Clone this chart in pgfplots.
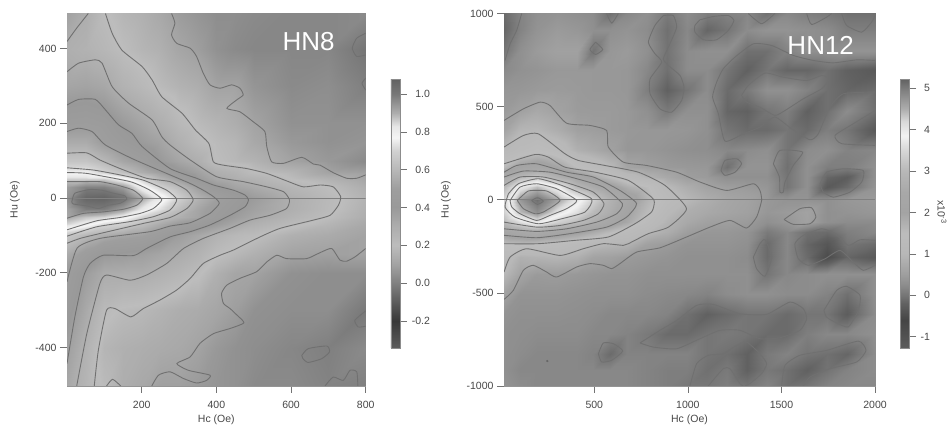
\documentclass[border=0pt]{standalone}
\usepackage{fontspec}
\setmainfont{Liberation Sans}
\usepackage{pgfplots}
\pgfplotsset{compat=1.18}
\pgfplotsset{
  /pgf/number format/assume math mode=true,
  /pgf/number format/1000 sep={},
  colormap={hneight}{gray(0cm)=(.36) gray(1.43cm)=(.22) gray(2.43cm)=(.36) gray(3.43cm)=(.5) gray(4.43cm)=(.64) gray(5.43cm)=(.74) gray(6.43cm)=(.68) gray(7.43cm)=(.6) gray(8.43cm)=(.62) gray(9.43cm)=(.72) gray(10.43cm)=(.82) gray(11.13cm)=(.96) gray(11.73cm)=(.9) gray(12.43cm)=(.68) gray(13.43cm)=(.47) gray(14.23cm)=(.38)},
  colormap={hntwelve}{gray(0cm)=(.36) gray(1.34cm)=(.27) gray(2.14cm)=(.38) gray(2.54cm)=(.46) gray(3.04cm)=(.55) gray(3.54cm)=(.62) gray(4.54cm)=(.72) gray(5.54cm)=(.74) gray(6.54cm)=(.64) gray(7.54cm)=(.66) gray(8.54cm)=(.72) gray(9.54cm)=(.84) gray(10.24cm)=(.95) gray(10.94cm)=(.85) gray(11.54cm)=(.68) gray(12.54cm)=(.48) gray(12.98cm)=(.38)},
  ct/.style={no markers,color=black!56,line width=.9pt,smooth,tension=.35,line join=round},
  zl/.style={no markers,color=black!50,line width=.6pt},
  forc/.style={
    scale only axis,
    axis line style={black!42,line width=.9pt},
    tick style={black!55,line width=.7pt},
    tick align=outside,
    major tick length=7pt,
    xtick pos=bottom,ytick pos=left,
    tick label style={font=\fontsize{10.5}{12}\selectfont,text=black!72},
    xticklabel style={yshift=-5pt},
    label style={font=\fontsize{10.5}{12}\selectfont,text=black!72},
    xlabel={Hc (Oe)},ylabel={Hu (Oe)},
    xlabel style={at={(axis description cs:.5,0)},anchor=center,yshift=-34pt},
  },
  cbar/.style={
    scale only axis,width=9pt,height=269pt,
    axis line style={black!45,line width=.6pt},
    tick style={black!55,line width=.7pt},
    major tick length=7pt,
    tick align=outside,
    ytick pos=right,yticklabel pos=right,
    tick label style={font=\fontsize{10.5}{12}\selectfont,text=black!72},
    anchor=north west,
  },
}
\begin{document}
\begin{tikzpicture}[x=1pt,y=1pt]
\useasboundingbox (0,0) rectangle (951,428);
\begin{axis}[forc,at={(67pt,42pt)},anchor=south west,width=298.7pt,height=372.5pt,
  xmin=0,xmax=800,ymin=-503,ymax=494,
  xtick={200,400,600,800},ytick={-400,-200,0,200,400},
  ylabel style={at={(axis description cs:0,.5)},anchor=center,yshift=52pt},
  colormap name=hneight,point meta min=-0.343,point meta max=1.08,
  colorbar,
  colorbar style={cbar,at={(1.0847,0.8242)},
    ytick={-0.2,0,0.2,0.4,0.6,0.8,1.0},
    yticklabel style={anchor=east,xshift=26.5pt,/pgf/number format/fixed,/pgf/number format/fixed zerofill,/pgf/number format/precision=1}},
]
\addplot[surf,shader=interp,mesh/cols=14,point meta=explicit] coordinates {
(0,494)[.36] (50,494)[.3] (100,494)[.21] (150,494)[.17] (200,494)[.15] (250,494)[.12] (300,494)[.08] (350,494)[.06] (400,494)[.04] (450,494)[.04] (500,494)[.03] (600,494)[.02] (700,494)[.02] (800,494)[.03]
(0,400)[.29] (50,400)[.27] (100,400)[.24] (150,400)[.2] (200,400)[.17] (250,400)[.15] (300,400)[.11] (350,400)[.085] (400,400)[.05] (450,400)[.03] (500,400)[.02] (600,400)[.02] (700,400)[.02] (800,400)[-.03]
(0,300)[.34] (50,300)[.35] (100,300)[.33] (150,300)[.27] (200,300)[.23] (250,300)[.19] (300,300)[.16] (350,300)[.14] (400,300)[.1] (450,300)[.1] (500,300)[.06] (600,300)[.03] (700,300)[.04] (800,300)[.0]
(0,200)[.46] (50,200)[.47] (100,200)[.45] (150,200)[.39] (200,200)[.34] (250,200)[.29] (300,200)[.23] (350,200)[.19] (400,200)[.165] (450,200)[.14] (500,200)[.1] (600,200)[.05] (700,200)[.05] (800,200)[.05]
(0,150)[.55] (50,150)[.55] (100,150)[.49] (150,150)[.44] (200,150)[.39] (250,150)[.35] (300,150)[.28] (350,150)[.22] (400,150)[.19] (450,150)[.17] (500,150)[.12] (600,150)[.07] (700,150)[.05] (800,150)[.06]
(0,100)[.65] (50,100)[.65] (100,100)[.6] (150,100)[.53] (200,100)[.48] (250,100)[.4] (300,100)[.34] (350,100)[.29] (400,100)[.2] (450,100)[.18] (500,100)[.16] (600,100)[.1] (700,100)[.07] (800,100)[.03]
(0,70)[.76] (50,70)[.76] (100,70)[.7] (150,70)[.63] (200,70)[.56] (250,70)[.5] (300,70)[.42] (350,70)[.36] (400,70)[.29] (450,70)[.26] (500,70)[.205] (600,70)[.17] (700,70)[.1] (800,70)[.09]
(0,50)[.86] (50,50)[.86] (100,50)[.86] (150,50)[.8] (200,50)[.7] (250,50)[.59] (300,50)[.5] (350,50)[.4] (400,50)[.33] (450,50)[.295] (500,50)[.27] (600,50)[.2] (700,50)[.16] (800,50)[.11]
(0,30)[.93] (50,30)[.98] (100,30)[.98] (150,30)[.93] (200,30)[.8] (250,30)[.7] (300,30)[.61] (350,30)[.5] (400,30)[.41] (450,30)[.35] (500,30)[.32] (600,30)[.25] (700,30)[.2] (800,30)[.14]
(0,0)[.95] (50,0)[1.06] (100,0)[1.07] (150,0)[1.02] (200,0)[.91] (250,0)[.81] (300,0)[.69] (350,0)[.58] (400,0)[.51] (450,0)[.44] (500,0)[.385] (600,0)[.295] (700,0)[.225] (800,0)[.16]
(0,-30)[.92] (50,-30)[.99] (100,-30)[.99] (150,-30)[.93] (200,-30)[.82] (250,-30)[.73] (300,-30)[.62] (350,-30)[.53] (400,-30)[.46] (450,-30)[.41] (500,-30)[.36] (600,-30)[.29] (700,-30)[.22] (800,-30)[.15]
(0,-50)[.91] (50,-50)[.87] (100,-50)[.85] (150,-50)[.8] (200,-50)[.7] (250,-50)[.63] (300,-50)[.57] (350,-50)[.52] (400,-50)[.44] (450,-50)[.38] (500,-50)[.33] (600,-50)[.26] (700,-50)[.2] (800,-50)[.14]
(0,-70)[.85] (50,-70)[.8] (100,-70)[.72] (150,-70)[.69] (200,-70)[.62] (250,-70)[.55] (300,-70)[.48] (350,-70)[.44] (400,-70)[.39] (450,-70)[.33] (500,-70)[.28] (600,-70)[.22] (700,-70)[.17] (800,-70)[.12]
(0,-100)[.66] (50,-100)[.6] (100,-100)[.56] (150,-100)[.53] (200,-100)[.51] (250,-100)[.46] (300,-100)[.38] (350,-100)[.33] (400,-100)[.27] (450,-100)[.23] (500,-100)[.21] (600,-100)[.15] (700,-100)[.13] (800,-100)[.1]
(0,-150)[.55] (50,-150)[.47] (100,-150)[.4] (150,-150)[.39] (200,-150)[.37] (250,-150)[.34] (300,-150)[.31] (350,-150)[.27] (400,-150)[.21] (450,-150)[.18] (500,-150)[.15] (600,-150)[.1] (700,-150)[.09] (800,-150)[.1]
(0,-200)[.48] (50,-200)[.38] (100,-200)[.31] (150,-200)[.305] (200,-200)[.305] (250,-200)[.28] (300,-200)[.25] (350,-200)[.21] (400,-200)[.15] (450,-200)[.11] (500,-200)[.1] (600,-200)[.05] (700,-200)[.04] (800,-200)[.04]
(0,-300)[.43] (50,-300)[.32] (100,-300)[.22] (150,-300)[.19] (200,-300)[.18] (250,-300)[.16] (300,-300)[.14] (350,-300)[.13] (400,-300)[.11] (450,-300)[.085] (500,-300)[.05] (600,-300)[.04] (700,-300)[.04] (800,-300)[-.02]
(0,-400)[.37] (50,-400)[.27] (100,-400)[.17] (150,-400)[.15] (200,-400)[.14] (250,-400)[.13] (300,-400)[.12] (350,-400)[.1] (400,-400)[.07] (450,-400)[.05] (500,-400)[.04] (600,-400)[.02] (700,-400)[.0] (800,-400)[.03]
(0,-503)[.33] (50,-503)[.25] (100,-503)[.19] (150,-503)[.14] (200,-503)[.12] (250,-503)[.09] (300,-503)[.09] (350,-503)[.075] (400,-503)[.06] (450,-503)[.05] (500,-503)[.03] (600,-503)[.03] (700,-503)[.01] (800,-503)[.0]
};
\addplot[zl] coordinates {(0,0) (800,0)};
\addplot[ct] coordinates {(280,494)(289,468)(280,437)(294,414)(330,401)(347,379)(365,334)(383,303)(410,294)(441,303)(463,294)(472,276)(455,263)(428,240)(463,231)(499,204)(530,178)(535,138)(548,97)(580,93)(629,109)(660,91)(678,88)(713,68)(749,53)(776,53)(800,62)};
\addplot[ct] coordinates {(800,-135)(772,-157)(749,-169)(731,-166)(709,-135)(678,-146)(642,-162)(588,-162)(562,-153)(535,-171)(508,-197)(463,-215)(428,-233)(414,-255)(419,-282)(437,-296)(455,-313)(474,-334)(437,-349)(392,-363)(356,-389)(330,-425)(294,-443)(325,-461)(383,-474)(374,-488)(347,-495)(312,-483)(276,-465)(245,-474)(227,-503)};
\addplot[ct] coordinates {(106,-503)(122,-485)(144,-503)};
\addplot[ct] coordinates {(800,441)(776,428)(764,401)(776,379)(800,383)};
\addplot[ct] coordinates {(800,321)(790,307)(800,289)};
\addplot[ct] coordinates {(800,-302)(771,-327)(780,-345)(800,-343)};
\addplot[ct] coordinates {(629,-421)(646,-403)(696,-396)(703,-412)(682,-430)(646,-440)(632,-430)(629,-421)};
\addplot[ct] coordinates {(691,-503)(713,-479)(740,-488)(758,-461)(776,-465)(779,-503)};
\addplot[ct] coordinates {(103,494)(121,441)(147,396)(201,352)(228,316)(254,271)(308,227)(344,182)(380,146)(392,97)(419,88)(481,79)(535,66)(588,46)(633,30)(678,35)(713,30)(733,4)(727,-19)(705,-46)(660,-59)(571,-81)(517,-104)(446,-139)(410,-153)(365,-175)(330,-215)(294,-246)(249,-273)(204,-296)(171,-318)(129,-296)(106,-300)(84,-407)(73,-503)};
\addplot[ct] coordinates {(0,338)(31,361)(76,370)(94,361)(121,298)(165,254)(228,209)(254,164)(276,142)(330,102)(401,57)(472,44)(535,30)(580,17)(596,-5)(588,-28)(544,-46)(490,-59)(437,-81)(365,-108)(312,-135)(267,-175)(213,-206)(169,-220)(106,-206)(88,-229)(53,-363)(26,-503)};
\addplot[ct] coordinates {(57,494)(26,455)(0,419)};
\addplot[ct] coordinates {(0,249)(31,264)(76,264)(103,236)(138,196)(174,173)(201,138)(276,79)(347,53)(392,35)(446,21)(477,8)(486,-5)(477,-23)(437,-46)(383,-72)(330,-90)(276,-104)(213,-135)(178,-154)(97,-153)(62,-175)(44,-211)(21,-318)(0,-443)};
\addplot[ct] coordinates {(0,178)(31,187)(67,178)(103,142)(178,104)(276,62)(330,39)(365,21)(392,4)(408,-14)(383,-41)(330,-66)(276,-75)(222,-90)(88,-108)(27,-134)(0,-224)};
\addplot[ct] coordinates {(0,120)(53,121)(88,102)(142,79)(213,53)(276,44)(321,21)(338,-5)(321,-28)(276,-52)(204,-68)(88,-95)(35,-108)(0,-121)};
\addplot[ct] coordinates {(0,81)(71,75)(142,62)(204,48)(267,21)(294,-4)(276,-32)(231,-50)(169,-63)(79,-77)(0,-102)};
\addplot[ct] coordinates {(0,68)(53,66)(169,44)(222,21)(254,-4)(231,-28)(196,-41)(142,-52)(79,-61)(0,-85)};
\addplot[ct] coordinates {(0,44)(44,44)(88,44)(133,35)(178,21)(203,-1)(187,-19)(151,-30)(97,-37)(44,-41)(0,-54)};
\addplot[ct] coordinates {(13,-10)(21,13)(62,23)(93,21)(124,13)(155,6)(160,-3)(142,-14)(111,-19)(84,-28)(53,-21)(17,-16)(13,-10)};
\node[text=white,font=\fontsize{26}{28}\selectfont,anchor=center] at (axis cs:647,420) {HN8};
\end{axis}

\begin{axis}[forc,at={(504pt,42pt)},anchor=south west,width=371pt,height=372.5pt,
  xmin=17.5,xmax=2000,ymin=-1000,ymax=1000,
  xtick={500,1000,1500,2000},ytick={-1000,-500,0,500,1000},
  ylabel style={at={(axis description cs:0,.5)},anchor=center,yshift=58pt},
  colormap name=hntwelve,point meta min=-1.27,point meta max=5.22,
  colorbar,
  colorbar style={cbar,at={(1.0674,0.8242)},
    ytick={-1,0,1,2,3,4,5},
    yticklabel style={anchor=east,xshift=17.5pt}},
]
\addplot[surf,shader=interp,mesh/cols=20,point meta=explicit] coordinates {
(18,1000)[-.1] (103,1000)[.15] (192,1000)[.3] (299,1000)[.35] (406,1000)[.3] (495,1000)[.25] (584,1000)[-.05] (673,1000)[.2] (780,1000)[.3] (887,1000)[.05] (993,1000)[.25] (1100,1000)[.1] (1207,1000)[.15] (1314,1000)[.2] (1421,1000)[-.05] (1528,1000)[.2] (1635,1000)[.1] (1742,1000)[.05] (1848,1000)[-.05] (2000,1000)[-.05]
(18,909)[-.15] (103,909)[.15] (192,909)[.35] (299,909)[.45] (406,909)[.4] (495,909)[.3] (584,909)[.3] (673,909)[.35] (780,909)[.25] (887,909)[-.05] (993,909)[.2] (1100,909)[-.15] (1207,909)[.0] (1314,909)[.25] (1421,909)[.35] (1528,909)[.35] (1635,909)[.3] (1742,909)[.25] (1848,909)[.1] (2000,909)[.1]
(18,801)[.0] (103,801)[.3] (192,801)[.45] (299,801)[.55] (406,801)[.55] (495,801)[-.02] (584,801)[.4] (673,801)[.45] (780,801)[.3] (887,801)[-.02] (993,801)[.25] (1100,801)[.3] (1207,801)[.3] (1314,801)[-.05] (1421,801)[-.05] (1528,801)[.15] (1635,801)[.3] (1742,801)[.3] (1848,801)[.35] (2000,801)[.35]
(18,694)[.22] (103,694)[.32] (192,694)[.36] (299,694)[.42] (406,694)[.42] (495,694)[.42] (584,694)[.42] (673,694)[.4] (780,694)[.2] (887,694)[-.05] (993,694)[.25] (1100,694)[.25] (1207,694)[.0] (1314,694)[-.2] (1421,694)[.0] (1528,694)[-.15] (1635,694)[-.15] (1742,694)[-.05] (1848,694)[-.2] (2000,694)[-.3]
(18,587)[.38] (103,587)[.4] (192,587)[.44] (299,587)[.46] (406,587)[.44] (495,587)[.42] (584,587)[.42] (673,587)[.4] (780,587)[.1] (887,587)[-.2] (993,587)[.0] (1100,587)[.25] (1207,587)[-.1] (1314,587)[.05] (1421,587)[.3] (1528,587)[.3] (1635,587)[.15] (1742,587)[-.05] (1848,587)[-.15] (2000,587)[-.1]
(18,479)[.45] (103,479)[.55] (192,479)[.7] (299,479)[.58] (406,479)[.46] (495,479)[.45] (584,479)[.45] (673,479)[.42] (780,479)[.3] (887,479)[.05] (993,479)[.3] (1100,479)[.3] (1207,479)[-.15] (1314,479)[-.2] (1421,479)[.0] (1528,479)[.1] (1635,479)[-.2] (1742,479)[-.05] (1848,479)[.25] (2000,479)[-.05]
(18,372)[.6] (103,372)[.95] (192,372)[.98] (299,372)[.8] (406,372)[.55] (495,372)[.5] (584,372)[.45] (673,372)[.42] (780,372)[.4] (887,372)[.4] (993,372)[.38] (1100,372)[.3] (1207,372)[.0] (1314,372)[-.1] (1421,372)[-.1] (1528,372)[.0] (1635,372)[-.1] (1742,372)[.1] (1848,372)[.0] (2000,372)[-.3]
(18,265)[1.05] (103,265)[1.25] (192,265)[1.42] (299,265)[1.25] (406,265)[.85] (495,265)[.72] (584,265)[.55] (673,265)[.4] (780,265)[.4] (887,265)[.35] (993,265)[.3] (1100,265)[.28] (1207,265)[.2] (1314,265)[.25] (1421,265)[.3] (1528,265)[.0] (1635,265)[.25] (1742,265)[.3] (1848,265)[.15] (2000,265)[.2]
(18,175)[1.6] (103,175)[2.1] (192,175)[2.3] (299,175)[2.0] (406,175)[1.5] (495,175)[1.3] (584,175)[1.05] (673,175)[.62] (780,175)[.52] (887,175)[.45] (993,175)[.42] (1100,175)[.4] (1207,175)[-.05] (1314,175)[.35] (1421,175)[.35] (1528,175)[-.05] (1635,175)[.3] (1742,175)[.1] (1848,175)[.1] (2000,175)[.3]
(18,122)[2.5] (103,122)[3.0] (192,122)[3.3] (299,122)[2.8] (406,122)[2.3] (495,122)[1.9] (584,122)[1.55] (673,122)[1.2] (780,122)[.9] (887,122)[.7] (993,122)[.5] (1100,122)[.45] (1207,122)[.3] (1314,122)[.3] (1421,122)[.3] (1528,122)[.0] (1635,122)[.3] (1742,122)[-.15] (1848,122)[-.25] (2000,122)[.3]
(18,68)[3.0] (103,68)[4.0] (192,68)[4.4] (299,68)[3.9] (406,68)[3.0] (495,68)[2.6] (584,68)[2.2] (673,68)[1.8] (780,68)[1.55] (887,68)[1.05] (993,68)[.8] (1100,68)[.6] (1207,68)[.5] (1314,68)[.45] (1421,68)[.38] (1528,68)[.0] (1635,68)[.3] (1742,68)[-.3] (1848,68)[-.1] (2000,68)[.35]
(18,0)[3.5] (103,0)[4.7] (192,0)[5.1] (299,0)[4.6] (406,0)[4.0] (495,0)[3.4] (584,0)[2.8] (673,0)[2.3] (780,0)[1.7] (887,0)[1.25] (993,0)[1.0] (1100,0)[.8] (1207,0)[.65] (1314,0)[.58] (1421,0)[.42] (1528,0)[.35] (1635,0)[.35] (1742,0)[.3] (1848,0)[.4] (2000,0)[.45]
(18,-66)[3.4] (103,-66)[4.4] (192,-66)[4.8] (299,-66)[4.1] (406,-66)[3.6] (495,-66)[3.05] (584,-66)[2.65] (673,-66)[2.05] (780,-66)[1.55] (887,-66)[1.05] (993,-66)[.8] (1100,-66)[.7] (1207,-66)[.62] (1314,-66)[.55] (1421,-66)[.4] (1528,-66)[.45] (1635,-66)[.58] (1742,-66)[.3] (1848,-66)[.35] (2000,-66)[.4]
(18,-120)[3.0] (103,-120)[3.6] (192,-120)[4.0] (299,-120)[3.4] (406,-120)[3.05] (495,-120)[2.7] (584,-120)[2.3] (673,-120)[1.9] (780,-120)[1.3] (887,-120)[.9] (993,-120)[.7] (1100,-120)[.55] (1207,-120)[.5] (1314,-120)[.45] (1421,-120)[.3] (1528,-120)[.4] (1635,-120)[.55] (1742,-120)[.3] (1848,-120)[.25] (2000,-120)[.25]
(18,-174)[2.2] (103,-174)[2.45] (192,-174)[2.6] (299,-174)[2.3] (406,-174)[2.1] (495,-174)[1.85] (584,-174)[1.55] (673,-174)[1.25] (780,-174)[1.0] (887,-174)[.8] (993,-174)[.5] (1100,-174)[.4] (1207,-174)[.4] (1314,-174)[.35] (1421,-174)[.05] (1528,-174)[.2] (1635,-174)[-.05] (1742,-174)[-.1] (1848,-174)[.1] (2000,-174)[.2]
(18,-236)[1.5] (103,-236)[1.55] (192,-236)[1.5] (299,-236)[1.4] (406,-236)[1.2] (495,-236)[1.05] (584,-236)[.95] (673,-236)[.9] (780,-236)[.55] (887,-236)[.45] (993,-236)[.35] (1100,-236)[.35] (1207,-236)[.35] (1314,-236)[.3] (1421,-236)[-.1] (1528,-236)[.2] (1635,-236)[-.15] (1742,-236)[-.35] (1848,-236)[.0] (2000,-236)[-.1]
(18,-308)[1.25] (103,-308)[.85] (192,-308)[.9] (299,-308)[.95] (406,-308)[.85] (495,-308)[.6] (584,-308)[.55] (673,-308)[.45] (780,-308)[.4] (887,-308)[.35] (993,-308)[.3] (1100,-308)[.3] (1207,-308)[.3] (1314,-308)[.25] (1421,-308)[-.1] (1528,-308)[.2] (1635,-308)[-.1] (1742,-308)[-.5] (1848,-308)[-.15] (2000,-308)[-.3]
(18,-397)[1.0] (103,-397)[.6] (192,-397)[.45] (299,-397)[.47] (406,-397)[.42] (495,-397)[.38] (584,-397)[.35] (673,-397)[.35] (780,-397)[.3] (887,-397)[.3] (993,-397)[.3] (1100,-397)[.3] (1207,-397)[.3] (1314,-397)[.3] (1421,-397)[.0] (1528,-397)[.2] (1635,-397)[.25] (1742,-397)[.3] (1848,-397)[.3] (2000,-397)[.3]
(18,-504)[.55] (103,-504)[.35] (192,-504)[.35] (299,-504)[.35] (406,-504)[.32] (495,-504)[.3] (584,-504)[.3] (673,-504)[.3] (780,-504)[.25] (887,-504)[.22] (993,-504)[.2] (1100,-504)[.15] (1207,-504)[.25] (1314,-504)[.3] (1421,-504)[.3] (1528,-504)[.25] (1635,-504)[.25] (1742,-504)[.15] (1848,-504)[-.05] (2000,-504)[.3]
(18,-612)[.35] (103,-612)[.3] (192,-612)[.3] (299,-612)[.3] (406,-612)[.28] (495,-612)[.25] (584,-612)[.2] (673,-612)[.2] (780,-612)[.2] (887,-612)[.15] (993,-612)[-.05] (1100,-612)[-.2] (1207,-612)[-.1] (1314,-612)[.0] (1421,-612)[.0] (1528,-612)[-.1] (1635,-612)[.0] (1742,-612)[.0] (1848,-612)[-.25] (2000,-612)[.25]
(18,-719)[.3] (103,-719)[.28] (192,-719)[.25] (299,-719)[.25] (406,-719)[.25] (495,-719)[.2] (584,-719)[.2] (673,-719)[.15] (780,-719)[.05] (887,-719)[-.1] (993,-719)[-.1] (1100,-719)[.0] (1207,-719)[.05] (1314,-719)[.0] (1421,-719)[-.1] (1528,-719)[-.1] (1635,-719)[.1] (1742,-719)[.2] (1848,-719)[.2] (2000,-719)[.3]
(18,-827)[.3] (103,-827)[.25] (192,-827)[.2] (299,-827)[.2] (406,-827)[.2] (495,-827)[.15] (584,-827)[-.1] (673,-827)[.15] (780,-827)[.15] (887,-827)[.15] (993,-827)[.15] (1100,-827)[.0] (1207,-827)[-.05] (1314,-827)[-.2] (1421,-827)[.05] (1528,-827)[.15] (1635,-827)[.0] (1742,-827)[-.05] (1848,-827)[-.15] (2000,-827)[.25]
(18,-916)[.3] (103,-916)[.2] (192,-916)[.2] (299,-916)[.2] (406,-916)[.2] (495,-916)[.2] (584,-916)[.2] (673,-916)[.2] (780,-916)[.15] (887,-916)[.1] (993,-916)[.1] (1100,-916)[-.05] (1207,-916)[.05] (1314,-916)[-.2] (1421,-916)[.03] (1528,-916)[-.05] (1635,-916)[-.2] (1742,-916)[-.02] (1848,-916)[.15] (2000,-916)[.25]
(18,-1000)[.35] (103,-1000)[.25] (192,-1000)[.2] (299,-1000)[.2] (406,-1000)[.2] (495,-1000)[.2] (584,-1000)[.2] (673,-1000)[.2] (780,-1000)[.15] (887,-1000)[.1] (993,-1000)[.03] (1100,-1000)[.02] (1207,-1000)[.1] (1314,-1000)[.0] (1421,-1000)[.15] (1528,-1000)[-.05] (1635,-1000)[.0] (1742,-1000)[.15] (1848,-1000)[.2] (2000,-1000)[.2]
};
\addplot[zl] coordinates {(17.5,0) (2000,0)};
\addplot[only marks,mark=*,mark size=.9pt,black!60] coordinates {(249,-866)};
\addplot[ct] coordinates {(23,748)(50,837)(85,909)(112,1000)};
\addplot[ct] coordinates {(566,1000)(593,948)(628,1000)};
\addplot[ct] coordinates {(507,846)(545,807)(507,780)(477,807)(507,846)};
\addplot[ct] coordinates {(869,989)(824,936)(789,846)(824,784)(860,739)(798,649)(798,569)(851,488)(913,470)(967,533)(979,605)(958,667)(896,721)(869,757)(904,837)(940,927)(922,989)(869,989)};
\addplot[ct] coordinates {(1065,966)(1136,984)(1216,989)(1246,962)(1216,909)(1154,859)(1083,859)(1038,900)(1038,936)(1065,966)};
\addplot[ct] coordinates {(1323,1000)(1394,945)(1465,1000)};
\addplot[ct] coordinates {(1635,1000)(1661,941)(1741,980)(1768,1000)};
\addplot[ct] coordinates {(1822,1000)(1848,936)(1929,900)(1982,954)(2000,989)};
\addplot[ct] coordinates {(2000,748)(1902,751)(1777,735)(1670,748)(1563,775)(1448,828)(1350,837)(1252,766)(1189,703)(1154,632)(1132,551)(1163,462)(1198,315)(1296,354)(1385,390)(1465,444)(1554,381)(1652,322)(1697,354)(1759,497)(1831,569)(2000,578)};
\addplot[ct] coordinates {(1287,560)(1323,614)(1412,680)(1510,658)(1635,640)(1715,667)(1756,649)(1715,596)(1617,542)(1519,479)(1465,453)(1385,497)(1314,524)(1287,560)};
\addplot[ct] coordinates {(2000,479)(1884,408)(1786,345)(1822,301)(2000,292)};
\addplot[ct] coordinates {(1177,157)(1198,211)(1261,220)(1287,193)(1252,148)(1198,131)(1177,157)};
\addplot[ct] coordinates {(1457,193)(1492,265)(1613,256)(1563,184)(1519,95)(1510,41)(1492,41)(1489,122)(1457,193)};
\addplot[ct] coordinates {(1706,86)(1741,148)(1831,166)(1937,157)(1929,95)(1866,41)(1777,14)(1724,41)(1706,86)};
\addplot[ct] coordinates {(1514,-106)(1599,-48)(1661,-43)(1684,-93)(1652,-129)(1563,-132)(1514,-106)};
\addplot[ct] coordinates {(1350,-308)(1385,-236)(1412,-215)(1448,-308)(1412,-411)(1367,-370)(1350,-308)};
\addplot[ct] coordinates {(2000,-218)(1920,-215)(1857,-245)(1786,-182)(1715,-156)(1617,-191)(1572,-236)(1590,-317)(1644,-352)(1733,-317)(1813,-272)(1884,-335)(1937,-379)(2000,-352)};
\addplot[ct] coordinates {(1727,-594)(1795,-487)(1848,-465)(1920,-513)(1911,-594)(1857,-683)(1786,-657)(1741,-630)(1727,-594)};
\addplot[ct] coordinates {(744,-769)(851,-701)(940,-648)(1047,-567)(1136,-562)(1278,-612)(1421,-615)(1546,-549)(1617,-585)(1635,-639)(1599,-701)(1492,-741)(1385,-746)(1278,-701)(1172,-701)(1065,-746)(940,-800)(815,-791)(744,-769)};
\addplot[ct] coordinates {(522,-827)(548,-769)(602,-773)(652,-812)(593,-862)(539,-871)(522,-827)};
\addplot[ct] coordinates {(1011,-1000)(1047,-880)(1109,-835)(1189,-827)(1261,-782)(1314,-764)(1385,-827)(1421,-880)(1394,-934)(1332,-987)(1305,-1000)};
\addplot[ct] coordinates {(1109,-1000)(1189,-907)(1225,-907)(1278,-987)(1296,-1000)};
\addplot[ct] coordinates {(1501,-1000)(1519,-889)(1599,-835)(1741,-809)(1911,-759)(1952,-809)(1902,-871)(1759,-907)(1652,-952)(1617,-1000)};
\addplot[ct] coordinates {(18,426)(121,488)(210,524)(263,506)(352,411)(477,399)(566,372)(575,283)(655,202)(780,184)(940,148)(1065,95)(1207,50)(1350,86)(1385,50)(1394,-4)(1367,-93)(1314,-152)(1225,-111)(1118,-147)(993,-200)(851,-258)(726,-281)(637,-343)(593,-370)(548,-352)(477,-343)(406,-361)(299,-415)(245,-388)(174,-352)(121,-379)(67,-487)(18,-535)};
\addplot[ct] coordinates {(18,283)(121,345)(201,354)(343,247)(415,211)(557,184)(735,148)(878,77)(993,-48)(896,-147)(789,-182)(682,-236)(655,-245)(548,-236)(441,-263)(317,-299)(139,-263)(50,-308)(18,-388)};
\addplot[ct] coordinates {(18,193)(183,243)(254,229)(343,175)(504,148)(682,104)(806,14)(821,-13)(806,-66)(717,-129)(575,-200)(397,-218)(201,-236)(18,-236)};
\addplot[ct] coordinates {(18,148)(85,184)(192,193)(352,148)(495,122)(637,50)(726,-21)(673,-93)(566,-147)(370,-182)(192,-204)(18,-191)};
\addplot[ct] coordinates {(18,122)(121,154)(263,148)(406,113)(548,68)(650,-21)(620,-75)(513,-120)(352,-156)(192,-170)(18,-156)};
\addplot[ct] coordinates {(18,77)(103,122)(228,122)(370,86)(495,41)(552,-21)(522,-75)(441,-111)(317,-138)(192,-147)(18,-120)};
\addplot[ct] coordinates {(41,32)(94,86)(201,113)(326,77)(486,5)(450,-66)(326,-102)(201,-129)(76,-93)(23,-39)(41,32)};
\addplot[ct] coordinates {(50,-4)(103,68)(192,86)(299,59)(406,-4)(352,-48)(263,-84)(192,-111)(103,-75)(59,-39)(50,-4)};
\addplot[ct] coordinates {(89,-4)(148,47)(245,47)(317,-4)(228,-66)(183,-75)(121,-48)(89,-4)};
\addplot[ct] coordinates {(165,-4)(196,11)(228,-7)(196,-25)(165,-4)};
\node[text=white,font=\fontsize{26}{28}\selectfont,anchor=center] at (axis cs:1710,828) {HN12};
\end{axis}
\node[rotate=-90,font=\fontsize{10.5}{12}\selectfont,text=black!72] at (942,216) {x10\textsuperscript{-3}};
\end{tikzpicture}
\end{document}
